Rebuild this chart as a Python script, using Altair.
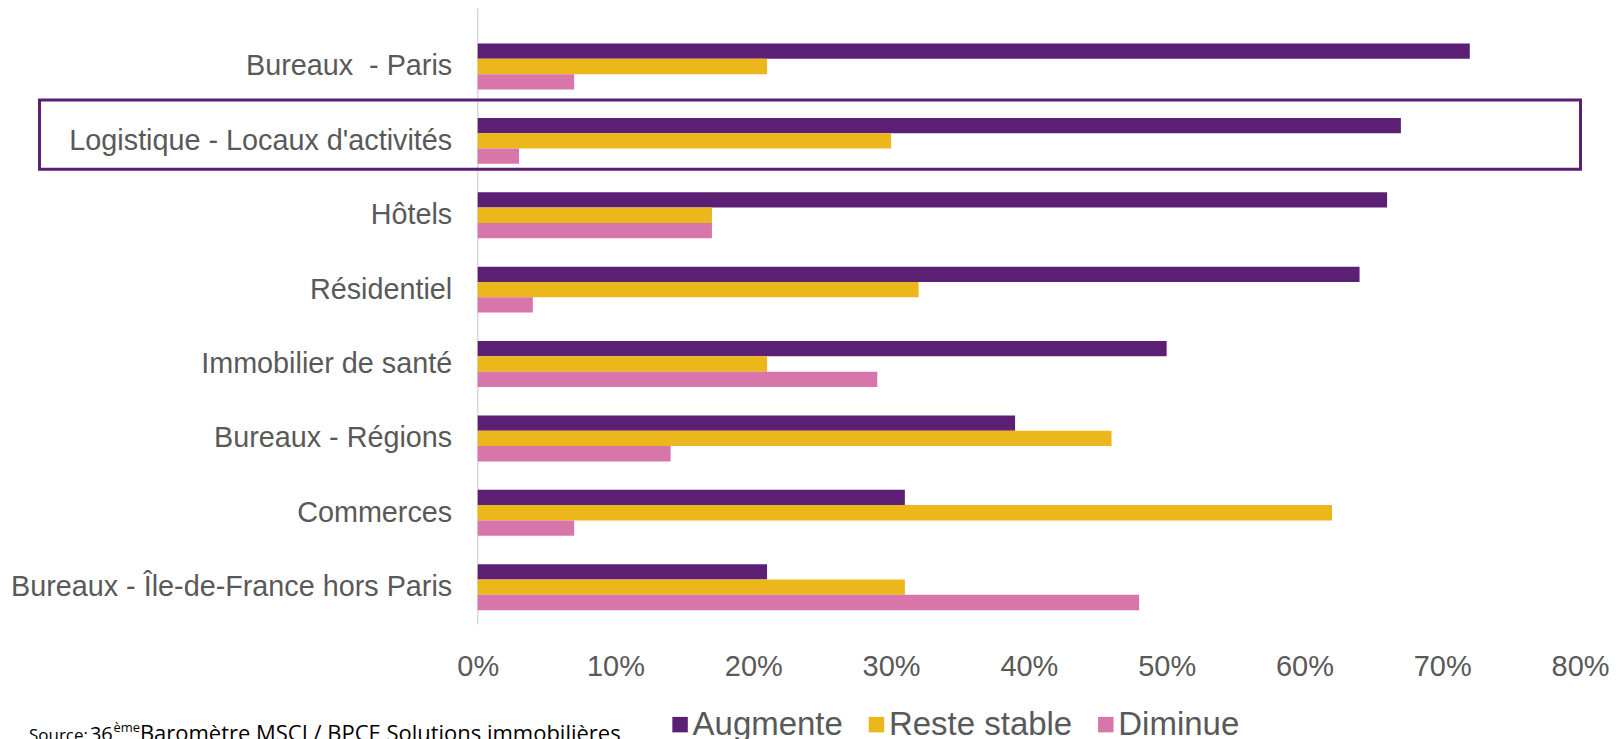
import altair as alt
import pandas as pd

categories = [
    "Bureaux \u00a0- Paris",
    "Logistique - Locaux d'activités",
    "Hôtels",
    "Résidentiel",
    "Immobilier de santé\u00a0",
    "Bureaux - Régions",
    "Commerces",
    "Bureaux - Île-de-France hors Paris",
]
series = ["Augmente", "Reste stable", "Diminue"]
colors = ["#5B1F73", "#EBB71A", "#D876AB"]
augmente = [72, 67, 66, 64, 50, 39, 31, 21]
reste_stable = [21, 30, 17, 32, 21, 46, 62, 31]
diminue = [7, 3, 17, 4, 29, 14, 7, 48]
x_ticks = [0, 0.1, 0.2, 0.3, 0.4, 0.5, 0.6, 0.7, 0.8]
highlight = ["Logistique - Locaux d'activités"]
source_label = ["Source:"]
source_num = ["36"]
source_sup = ["ème"]
source_rest = ["Baromètre MSCI / BPCE Solutions immobilières"]

rows = []
for i, c in enumerate(categories):
    for s, vals in zip(series, [augmente, reste_stable, diminue]):
        rows.append({"cat": c, "serie": s, "val": vals[i] / 100})
df = pd.DataFrame(rows)

W = 1103
H = 595.4
FONT = "Liberation Sans"
GREY = "#595959"

y_enc = alt.Y(
    "cat:N",
    sort=categories,
    scale=alt.Scale(paddingInner=0.382, paddingOuter=0.191),
    axis=alt.Axis(
        title=None,
        labelFont=FONT,
        labelFontSize=28.8,
        labelColor=GREY,
        labelPadding=26,
        labelLimit=0,
        ticks=False,
        domain=False,
        grid=False,
    ),
)
x_axis = alt.Axis(
    title=None,
    format=".0%",
    values=x_ticks,
    grid=False,
    domain=False,
    ticks=False,
    labelFont=FONT,
    labelFontSize=29,
    labelColor=GREY,
    labelPadding=28,
    labelFlush=False,
)
x_scale = alt.Scale(domain=[0, 0.8], nice=False)
x_enc = alt.X("val:Q", scale=x_scale, axis=x_axis)

bars = alt.Chart(df).mark_bar().encode(
    x=x_enc,
    y=y_enc,
    yOffset=alt.YOffset("serie:N", sort=series, scale=alt.Scale(paddingInner=0, paddingOuter=0)),
    color=alt.Color(
        "serie:N",
        sort=series,
        scale=alt.Scale(domain=series, range=colors),
        legend=alt.Legend(
            title=None,
            orient="none",
            legendX=186,
            legendY=679,
            direction="horizontal",
            symbolType="square",
            symbolSize=240,
            symbolStrokeWidth=0,
            labelFont=FONT,
            labelFontSize=33,
            labelColor=GREY,
            labelOffset={"expr": "-4"},
            columnPadding=16.5,
            padding=0,
            labelLimit=0,
        ),
    ),
)

axis_line = alt.Chart(pd.DataFrame({"val": [0]})).mark_rule(color="#D9D9D9", strokeWidth=1.5).encode(
    x=x_enc,
    y=alt.value(-21),
    y2=alt.value(H),
)

box = alt.Chart(pd.DataFrame({"cat": highlight})).mark_rect(
    fillOpacity=0, stroke="#5B1F73", strokeWidth=3, height=69.4, yOffset=-6.2
).encode(
    y=alt.Y("cat:N", sort=categories),
    x=alt.value(-438.5),
    x2=alt.value(1103.5),
)


def src(txt, xpos, ypos, size):
    return alt.Chart(pd.DataFrame({"t": txt})).mark_text(
        align="left", baseline="alphabetic", font="Open Sans", fontSize=size, color="#000000"
    ).encode(text="t:N", x=alt.value(xpos), y=alt.value(ypos))


src1 = src(source_label, -449, 712, 17)
src2 = src(source_num, -388, 712, 20)
src3 = src(source_sup, -364.5, 703, 13)
src4 = src(source_rest, -338, 712, 22)

chart = (
    alt.layer(axis_line, bars, box, src1, src2, src3, src4)
    .properties(
        width=W,
        height=H,
        padding={"left": 470, "top": 21.1, "right": 30, "bottom": 117.5},
        autosize=alt.AutoSizeParams(type="none"),
    )
    .configure_view(strokeWidth=0)
)

chart.save("out.html", embed_options={"renderer": "svg", "actions": False})
